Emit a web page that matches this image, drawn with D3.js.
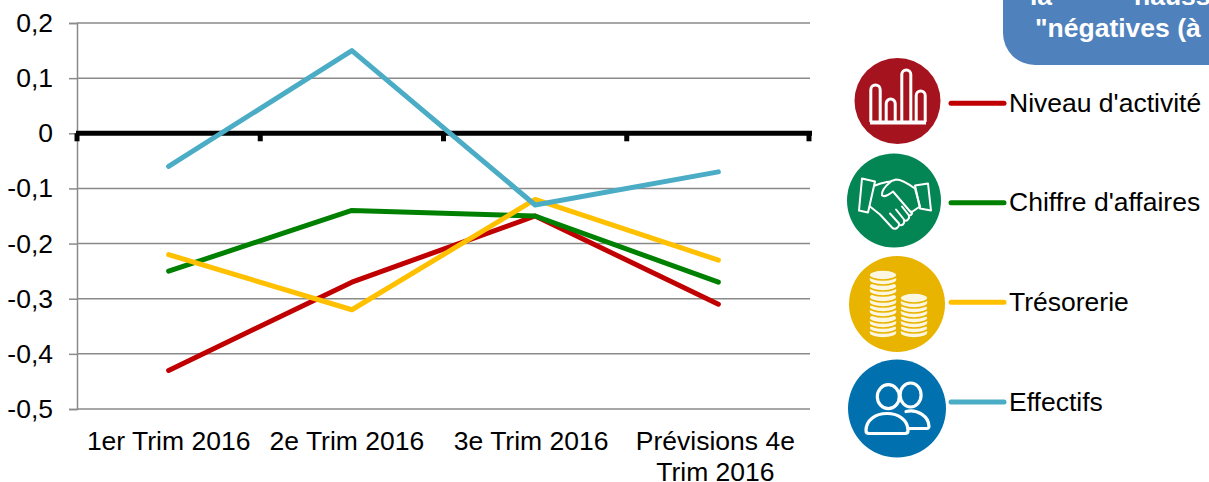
<!DOCTYPE html>
<html>
<head>
<meta charset="utf-8">
<script src="https://cdn.jsdelivr.net/npm/d3@7"></script>
<style>
  html, body { margin: 0; padding: 0; background: #fff; overflow: hidden; }
  svg { display: block; }
  text { font-family: "Liberation Sans", Arial, sans-serif; fill: #000; }
</style>
</head>
<body>
<script>
// values
const categories = ['1er Trim 2016', '2e Trim 2016', '3e Trim 2016', 'Prévisions 4e|Trim 2016'];
const yTicks = [0.2, 0.1, 0, -0.1, -0.2, -0.3, -0.4, -0.5];
const niveau = [-0.43, -0.27, -0.15, -0.31];
const chiffre = [-0.25, -0.14, -0.15, -0.27];
const tresorerie = [-0.22, -0.32, -0.12, -0.23];
const effectifs = [-0.06, 0.15, -0.13, -0.07];
const seriesNames = ["Niveau d'activité", "Chiffre d'affaires", 'Trésorerie', 'Effectifs'];
const seriesColors = ['#c00000', '#008000', '#ffc000', '#4bacc6'];
const allSeries = [niveau, chiffre, tresorerie, effectifs];

const width = 1209;
const height = 482;
const plot = {left: 77, right: 810, top: 23, bottom: 409};
const fontSize = 26.5;

const svg = d3.select('body').append('svg')
    .attr('width', width)
    .attr('height', height);

const xScale = d3.scaleBand().domain(categories).range([plot.left, plot.right]);
const yScale = d3.scaleLinear().domain([-0.5, 0.2]).range([plot.bottom, plot.top]);

// gridlines and left axis
const yAxisG = svg.append('g')
    .attr('transform', `translate(${plot.left},0)`)
    .call(d3.axisLeft(yScale)
        .tickValues(yTicks)
        .tickSize(8)
        .tickPadding(16)
        .tickFormat(d => String(d).replace('.', ',')));
yAxisG.select('.domain').attr('stroke', '#8a8a8a').attr('stroke-width', 1.5);
yAxisG.selectAll('line').attr('stroke', '#8a8a8a').attr('stroke-width', 1.5);
yAxisG.selectAll('text').attr('font-size', fontSize).attr('font-family', '"Liberation Sans", Arial, sans-serif');

svg.append('g').selectAll('line')
    .data(yTicks)
    .join('line')
    .attr('x1', plot.left)
    .attr('x2', plot.right)
    .attr('y1', d => yScale(d))
    .attr('y2', d => yScale(d))
    .attr('stroke', '#8a8a8a')
    .attr('stroke-width', 1.5);

// thick zero line with its ticks between the categories
const tickEdges = categories.map(c => xScale(c)).concat(plot.right - 1);
svg.append('line')
    .attr('x1', plot.left - 1)
    .attr('x2', plot.right + 2)
    .attr('y1', yScale(0))
    .attr('y2', yScale(0))
    .attr('stroke', '#000')
    .attr('stroke-width', 5);
svg.append('g').selectAll('line')
    .data(tickEdges)
    .join('line')
    .attr('x1', d => d)
    .attr('x2', d => d)
    .attr('y1', yScale(0))
    .attr('y2', yScale(0) + 8)
    .attr('stroke', '#000')
    .attr('stroke-width', 5);

// category labels, nudged a little as in the original
const labelShift = [0, -5, -4, -3];
const xAxisG = svg.append('g')
    .attr('transform', `translate(0,${plot.bottom})`)
    .call(d3.axisBottom(xScale).tickSize(0).tickPadding(0));
xAxisG.select('.domain').remove();
xAxisG.selectAll('text').each(function (d, n) {
    const label = d3.select(this)
        .text(null)
        .attr('font-size', fontSize)
        .attr('font-family', '"Liberation Sans", Arial, sans-serif')
        .attr('y', 0)
        .attr('dy', null);
    d.split('|').forEach((part, i) => {
        label.append('tspan')
            .attr('x', labelShift[n])
            .attr('y', 41 + i * 31)
            .text(part);
    });
});

// series
const line = d3.line()
    .x((d, i) => xScale(categories[i]) + xScale.bandwidth() / 2)
    .y(d => yScale(d));

svg.append('g').selectAll('path')
    .data(allSeries)
    .join('path')
    .attr('d', line)
    .attr('fill', 'none')
    .attr('stroke', (d, i) => seriesColors[i])
    .attr('stroke-width', 5)
    .attr('stroke-linecap', 'round')
    .attr('stroke-linejoin', 'round');

// blue banner cut by the edge of the picture
svg.append('path')
    .attr('d', 'M1003,-5 V33 A32,32 0 0 0 1035,65 H1214 V-5 Z')
    .attr('fill', '#4f81bd');
const bannerText = svg.append('g')
    .attr('font-size', fontSize)
    .attr('font-weight', 'bold');
bannerText.append('text').attr('x', 1030).attr('y', 5).style('fill', '#fff').text('la');
bannerText.append('text').attr('x', 1134).attr('y', 5).style('fill', '#fff').text('hausse');
bannerText.append('text').attr('x', 1035).attr('y', 36.5).style('fill', '#fff').text('"négatives (à');

// legend
const legendY = [103.3, 202.7, 302.3, 402];
const legend = svg.append('g');
legend.selectAll('line')
    .data(seriesNames)
    .join('line')
    .attr('x1', 951)
    .attr('x2', 1004)
    .attr('y1', (d, i) => legendY[i])
    .attr('y2', (d, i) => legendY[i])
    .attr('stroke', (d, i) => seriesColors[i])
    .attr('stroke-width', 5)
    .attr('stroke-linecap', 'round');
legend.selectAll('text')
    .data(seriesNames)
    .join('text')
    .attr('x', 1009)
    .attr('y', (d, i) => legendY[i] + 8.5)
    .attr('font-size', fontSize)
    .text(d => d);

// round icons
const icons = [
    {cx: 897.5, cy: 101, r: 43, fill: '#a5141e'},
    {cx: 894, cy: 200.5, r: 47, fill: '#048554'},
    {cx: 897, cy: 304, r: 48, fill: '#e8b400'},
    {cx: 897, cy: 408.5, r: 49, fill: '#0071ae'}
];
const iconG = svg.append('g').selectAll('g')
    .data(icons)
    .join('g')
    .attr('transform', d => `translate(${d.cx},${d.cy})`);
iconG.append('circle')
    .attr('r', d => d.r)
    .attr('fill', d => d.fill);

// bars icon
const arch = (x0, x1, top) => {
    const r = (x1 - x0) / 2;
    return `M${x0},21 V${top + r} A${r},${r} 0 0 1 ${x1},${top + r} V21`;
};
const barsIcon = d3.select(iconG.nodes()[0]).append('g')
    .attr('fill', 'none').attr('stroke', '#fff').attr('stroke-width', 3);
[[-26.7, -17.3, -16], [-11.3, -2.3, -2], [4.3, 13.3, -31], [18.7, 27.7, -10]].forEach(b => {
    barsIcon.append('path').attr('d', arch(b[0], b[1], b[2]));
});
barsIcon.append('path').attr('d', 'M-27.5,21.5 H28.5').attr('stroke-width', 4);

// handshake icon
const handIcon = d3.select(iconG.nodes()[1]).append('g')
    .attr('fill', 'none').attr('stroke', '#fff')
    .attr('stroke-width', 2).attr('stroke-linejoin', 'round').attr('stroke-linecap', 'round');
handIcon.append('path').attr('d', 'M-32,-22 L-19,-19 L-26,12 L-35,10 Z');
handIcon.append('path').attr('d', 'M21,-15 L34,-17 L37,10 L26,8 Z');
handIcon.append('path').attr('d', 'M-19,-15 C-12,-18 -9,-18 -4,-19 L2,-21 C8,-21 14,-17 21,-12 L26,6 L17,12 L-1,-9 C-5,-6 -9,-3 -12,-5 C-13,-10 -8,-15 -3,-19');
handIcon.append('path').attr('d', 'M-24,6 L-14,14 L-2,27 C1,30 5,27 5,24 C8,26 11,23 10,20 C13,21 16,18 15,15 C18,15 19,12 17,11');
handIcon.append('path').attr('d', 'M-4,13 L5,23 M2,9 L10,19 M8,6 L15,15');

// coins icon
const coinIcon = d3.select(iconG.nodes()[2]).append('g');
const coinStack = (cx, tops) => {
    tops.slice().reverse().forEach(t => {
        coinIcon.append('path')
            .attr('d', `M${cx - 14},${t} A14,5 0 0 1 ${cx + 14},${t} A14,5 0 0 1 ${cx - 14},${t} V${t + 5} A14,5 0 0 0 ${cx + 14},${t + 5} V${t} A14,5 0 0 1 ${cx - 14},${t} Z`)
            .attr('fill', '#fdf6e0')
            .attr('stroke', '#e8b400')
            .attr('stroke-width', 1.6);
    });
};
coinStack(-14, [-29, -18, -7, 3, 14, 24]);
coinStack(17, [-6, 4, 14, 24]);

// people icon
const peopleIcon = d3.select(iconG.nodes()[3]).append('g')
    .attr('fill', 'none').attr('stroke', '#fff')
    .attr('stroke-width', 3.2).attr('stroke-linecap', 'round').attr('stroke-linejoin', 'round');
peopleIcon.append('ellipse').attr('cx', 13.6).attr('cy', -13.5).attr('rx', 10.5).attr('ry', 12);
peopleIcon.append('path').attr('d', 'M9,3 C20,0 32,8 32,18 C32,19 31,20 30,20 H12');
peopleIcon.append('ellipse').attr('cx', -8.7).attr('cy', -11.8).attr('rx', 11).attr('ry', 12)
    .attr('fill', '#0071ae');
peopleIcon.append('path')
    .attr('d', 'M-31,22 C-31,12 -22,5 -10,5 C2,5 11,12 11,22 C11,24 10,25 8,25 H-28 C-30,25 -31,24 -31,22 Z')
    .attr('fill', '#0071ae');
</script>
</body>
</html>
